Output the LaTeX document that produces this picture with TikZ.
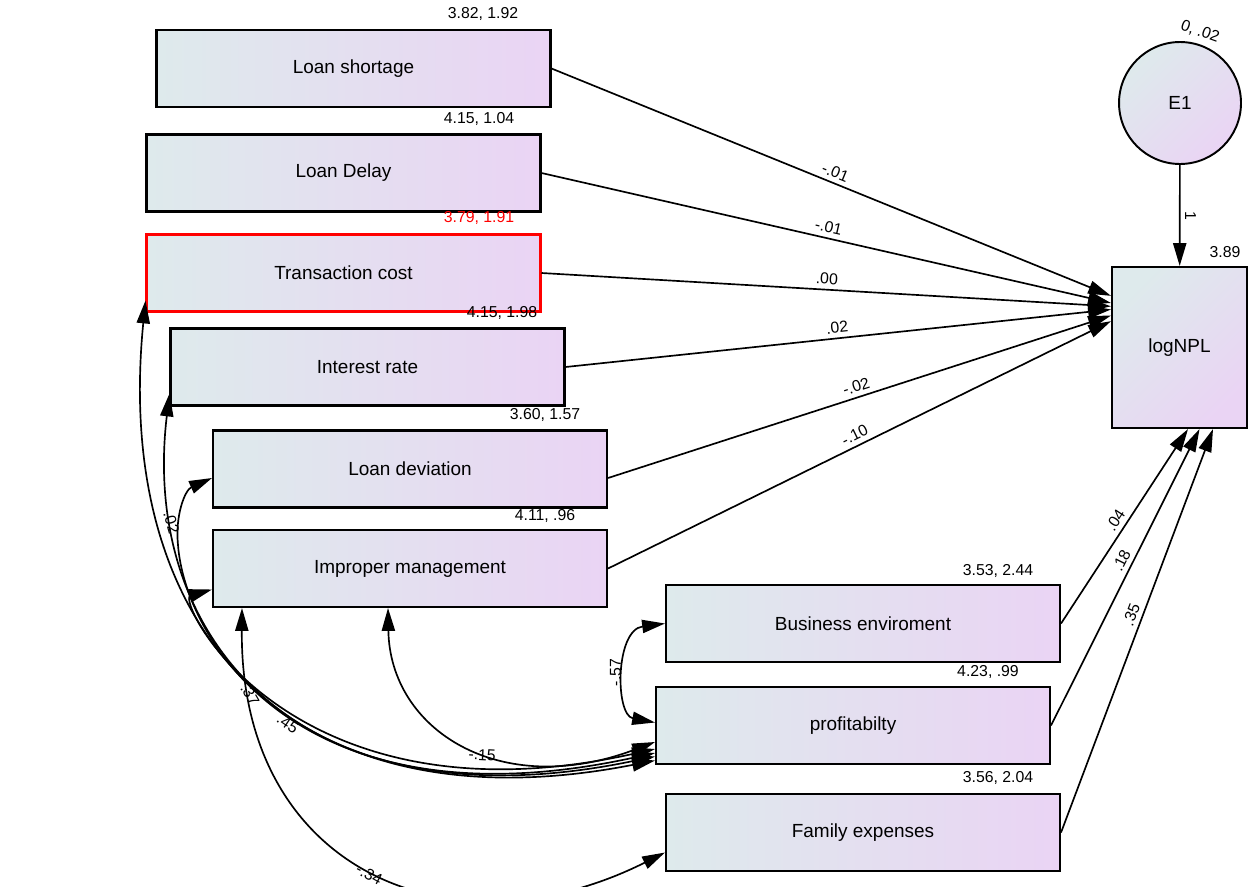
\documentclass[tikz,border=0pt]{standalone}
\usepackage{fontspec}
\setmainfont{Liberation Sans}
\usetikzlibrary{arrows.meta,calc}

\definecolor{boxleft}{RGB}{222,234,236}
\definecolor{boxright}{RGB}{234,212,244}

\tikzset{
  var/.style={draw=black, line width=1.2pt, left color=boxleft, right color=boxright,
    minimum width=7.88cm, minimum height=1.54cm, inner sep=0pt,
    font=\fontsize{10.8}{12}\selectfont},
  latent/.style={draw=black, circle, line width=1.1pt, top color=boxleft,
    bottom color=boxright, shading angle=45, minimum size=2.44cm,
    font=\fontsize{10.8}{12}\selectfont},
  lab/.style={font=\fontsize{9}{10}\selectfont, inner sep=2.5pt},
}

\begin{document}
\begin{tikzpicture}[x=0.02cm, y=-0.02cm, line width=0.95pt,
    >={Triangle[length=13pt,width=7.5pt]}]
  \useasboundingbox (0,0) rectangle (1256,886);

  % observed variables
  \node[var] (shortage) at (353.5,68.5) {Loan shortage};
  \node[var] (delay) at (343.5,173) {Loan Delay};
  \node[var, draw=red] (trans) at (343.5,273) {Transaction cost};
  \node[var] (interest) at (367.5,367) {Interest rate};
  \node[var] (deviation) at (410,469) {Loan deviation};
  \node[var] (improper) at (410,568.5) {Improper management};
  \node[var] (business) at (863,623.5) {Business enviroment};
  \node[var] (profit) at (853,725.5) {profitabilty};
  \node[var] (family) at (863,832.5) {Family expenses};
  \node[var, minimum width=2.7cm, minimum height=3.22cm, top color=boxleft,
    bottom color=boxright, shading angle=45] (npl) at (1179.5,347.5) {logNPL};
  \node[latent] (e1) at (1180,103) {E1};

  % means and variances
  \node[lab] (m-shortage) at (483,14) {3.82, 1.92};
  \node[lab] (m-delay) at (479,119) {4.15, 1.04};
  \node[lab, text=red] (m-trans) at (479,218) {3.79, 1.91};
  \node[lab] (m-interest) at (502,313) {4.15, 1.98};
  \node[lab] (m-deviation) at (545,415) {3.60, 1.57};
  \node[lab] (m-improper) at (545,516) {4.11, .96};
  \node[lab] (m-business) at (998,571) {3.53, 2.44};
  \node[lab] (m-profit) at (988,672) {4.23, .99};
  \node[lab] (m-family) at (998,778) {3.56, 2.04};
  \node[lab] (m-npl) at (1225,252) {3.89};
  \node[lab, rotate=-20] (m-e1) at (1200,32) {0, .02};

  % regression weights
  \draw[->] (shortage.east) -- node[lab, sloped, above] {-.01} (npl.143);
  \draw[->] (delay.east) -- node[lab, sloped, above] {-.01} (npl.147);
  \draw[->] (trans.east) -- node[lab, sloped, above] {.00} (npl.149);
  \draw[->] (interest.east) -- node[lab, sloped, above] {.02} (npl.151);
  \draw[->] ($(deviation.east)+(0,9)$) -- node[lab, sloped, above] {-.02} (npl.155);
  \draw[->] (improper.east) -- node[lab, sloped, above] {-.10} (npl.159);
  \draw[->] (business.east) -- node[lab, sloped, above] {.04} ($(npl.south)+(8.5,0)$);
  \draw[->] (profit.east) -- node[lab, sloped, above, pos=.54] {.18} ($(npl.south)+(20,0)$);
  \draw[->] (family.east) -- node[lab, sloped, above, pos=.53] {.35} ($(npl.south)+(33.5,0)$);
  \draw[->] (e1) -- node[lab, pos=.5, rotate=-90, anchor=south] {1} (npl);

  % covariances
  \draw[<->] ($(trans.south west)+(0,-12)$) .. controls (112,640) and (300,830)
    .. node[lab, sloped, above, pos=.25] {.02} ($(profit.west)+(0,35)$);
  \draw[<->] ($(interest.south west)+(0,-13)$) .. controls (140,640) and (300,830)
    .. node[lab, sloped, below, pos=.55] {.45} ($(profit.west)+(0,31)$);
  \draw[<->] ($(deviation.west)+(0,9)$) .. controls (185,490) and (175,515) .. (178,545)
    .. controls (185,640) and (300,830) .. ($(profit.west)+(0,27.5)$);
  \draw[<->] ($(improper.west)+(0,21)$) .. controls (175,600) and (290,830)
    .. node[lab, sloped, above, pos=.82] {-.15} ($(profit.west)+(0,23.5)$);
  \draw[<->] ($(improper.south)+(-22,0)$) .. controls (390,730) and (500,800)
    .. ($(profit.west)+(0,16.5)$);
  \draw[<->] ($(improper.south west)+(30,0)$) .. controls (240,870) and (450,960)
    .. node[lab, pos=.12, rotate=-60] {.37}
       node[lab, sloped, below, pos=.5, inner sep=0pt] {-.34} ($(family.west)+(0,20)$);
  \draw[<->] ($(profit.west)+(0,-3)$) .. controls (615,715) and (615,630)
    .. node[lab, pos=.5, rotate=90, anchor=south] {-.57} (business.west);
\end{tikzpicture}
\end{document}
